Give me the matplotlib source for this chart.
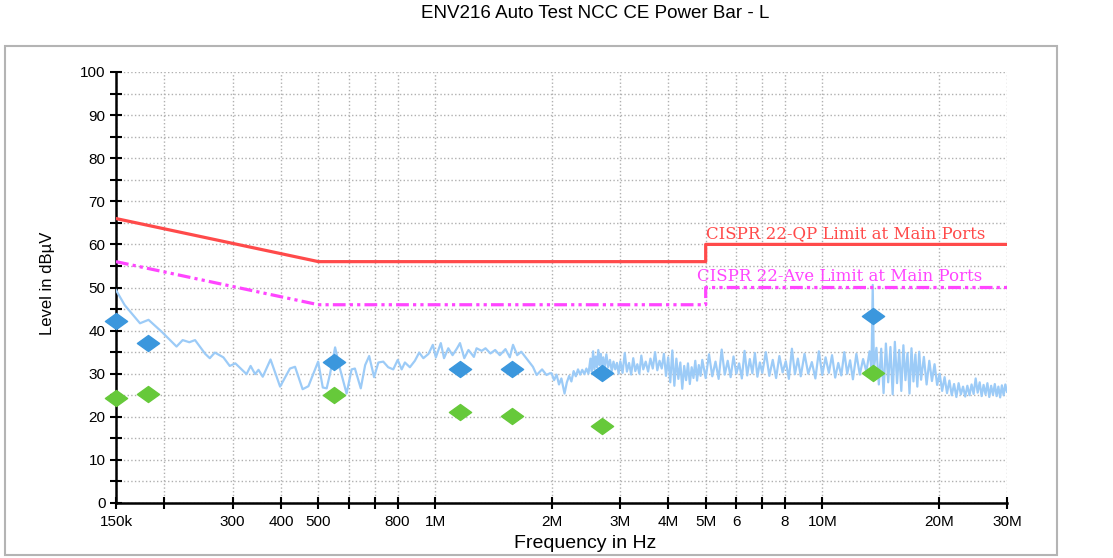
import matplotlib.pyplot as plt
from matplotlib.path import Path
from matplotlib.patches import Rectangle

# measured trace (peak detector scan), frequency in MHz, level in dBuV
trace_mhz = [
    0.150, 0.158, 0.173, 0.182, 0.197, 0.215, 0.223, 0.232, 0.240, 0.255,
    0.262, 0.270, 0.284, 0.295, 0.305, 0.326, 0.334, 0.343, 0.350, 0.359,
    0.376, 0.398, 0.422, 0.435, 0.455, 0.471, 0.499, 0.513, 0.525, 0.536,
    0.552, 0.568, 0.591, 0.609, 0.621, 0.643, 0.660, 0.676, 0.696, 0.714,
    0.735, 0.757, 0.780, 0.801, 0.820, 0.836, 0.861, 0.887, 0.910, 0.933,
    0.962, 0.987, 1.005, 1.035, 1.055, 1.082, 1.110, 1.140, 1.160, 1.190,
    1.220, 1.260, 1.280, 1.320, 1.350, 1.390, 1.430, 1.470, 1.520, 1.560,
    1.590, 1.630, 1.670, 1.720, 1.790, 1.830, 1.890, 1.940, 1.980,
    2.00, 2.03, 2.06, 2.09, 2.12, 2.16, 2.19, 2.22, 2.25, 2.28, 2.31, 2.34,
    2.37, 2.40, 2.43, 2.46, 2.49,
    2.52, 2.54, 2.56, 2.58, 2.60, 2.62, 2.64, 2.66, 2.68, 2.70, 2.72, 2.74,
    2.77, 2.80, 2.83, 2.86, 2.89, 2.92, 2.95,
    2.98, 3.01, 3.05, 3.09, 3.13, 3.17, 3.21, 3.25, 3.29, 3.33, 3.37, 3.41,
    3.45, 3.50, 3.55, 3.60, 3.65, 3.70, 3.75, 3.80, 3.85, 3.90, 3.95,
    4.00, 4.05, 4.10, 4.15, 4.20, 4.25, 4.30, 4.35, 4.40, 4.45, 4.50, 4.55,
    4.60, 4.65, 4.70, 4.75, 4.80, 4.85,
    4.9, 5.0, 5.1, 5.2, 5.3, 5.4, 5.5, 5.6, 5.7, 5.8, 5.9, 6.0, 6.1, 6.2,
    6.3, 6.4, 6.5, 6.6, 6.7, 6.8, 6.9, 7.0, 7.15, 7.3, 7.45, 7.6, 7.75, 7.9,
    8.05, 8.2, 8.35, 8.5, 8.65, 8.8, 9.0, 9.2, 9.4, 9.6, 9.8, 10.0, 10.2,
    10.4, 10.6, 10.8, 11.0, 11.2, 11.4, 11.6, 11.8, 12.0, 12.25, 12.5, 12.75,
    13.0, 13.25, 13.4, 13.5, 13.6, 13.8,
    14.0, 14.2, 14.4, 14.6, 14.8, 15.0, 15.2, 15.4, 15.6, 15.8, 16.0, 16.2,
    16.4, 16.6, 16.8, 17.0, 17.2, 17.4, 17.6, 17.8, 18.0, 18.3, 18.6, 18.9,
    19.2, 19.5, 19.8,
    20.1, 20.4, 20.7, 21.0, 21.3, 21.6, 21.9, 22.2, 22.5, 22.8, 23.1, 23.4,
    23.7, 24.0, 24.3, 24.6, 24.9, 25.2, 25.5, 25.8, 26.1, 26.4, 26.7, 27.0,
    27.3, 27.6, 27.9, 28.2, 28.5, 28.8, 29.1, 29.4, 29.7, 30.0,
]
trace_db = [
    49.4, 45.9, 41.7, 42.5, 39.7, 36.3, 37.8, 37.3, 37.8, 34.6,
    33.6, 34.9, 33.8, 31.8, 32.4, 29.9, 31.8, 29.9, 30.9, 29.3,
    33.3, 27.0, 31.2, 31.6, 26.4, 27.1, 32.8, 26.8, 26.6, 30.1,
    36.1, 31.2, 25.4, 31.0, 31.2, 26.6, 32.0, 34.1, 29.2, 32.6,
    32.8, 31.5, 31.0, 33.2, 31.0, 32.6, 31.5, 33.0, 34.9, 33.6,
    34.6, 36.7, 33.8, 37.1, 33.6, 35.9, 34.3, 35.9, 37.1, 33.6,
    35.5, 33.9, 35.9, 35.3, 35.9, 34.7, 35.5, 34.3, 35.7, 33.8,
    36.7, 34.3, 35.1, 33.6, 31.6, 29.7, 31.0, 29.7, 30.1,
    30.1, 28.5, 29.8, 27.5, 28.9, 25.4, 28.0, 29.5, 28.2, 30.6, 29.4, 31.0,
    29.8, 30.9, 29.9, 31.2, 30.0,
    33.5, 30.5, 35.2, 31.0, 34.0, 31.5, 35.5, 32.0, 34.6, 31.2, 33.8, 30.8,
    34.5, 31.5, 33.2, 30.6, 32.8, 31.0, 32.5,
    30.0, 32.9, 30.2, 34.8, 30.5, 32.5, 29.8, 33.6, 30.6, 32.2, 30.0, 34.2,
    31.0, 32.8, 30.5, 33.5, 31.2, 35.0, 30.8, 33.0, 31.2, 34.6, 29.5,
    33.8, 28.0, 35.4, 27.2, 33.5, 28.8, 32.6, 26.5, 31.8, 28.5, 32.4, 27.6,
    31.5, 29.0, 33.0, 28.4, 32.0, 29.5,
    33.2, 29.0, 34.5, 29.4, 32.8, 28.8, 35.6, 29.8, 33.0, 29.2, 34.0, 30.0,
    32.4, 28.9, 35.3, 29.6, 33.4, 30.1, 34.8, 29.3, 32.6, 30.2, 35.0, 29.5,
    33.2, 29.0, 34.1, 30.3, 32.9, 28.8, 35.8, 29.9, 33.5, 29.4, 34.6, 30.0,
    32.7, 28.9, 35.2, 29.7, 33.8, 30.2, 34.3, 29.1, 32.5, 29.6, 35.0, 30.0,
    33.1, 28.7, 34.6, 29.8, 33.4, 30.5, 35.2, 31.0, 50.6, 31.2, 36.0,
    27.5, 35.8, 25.5, 37.0, 28.0, 36.2, 25.2, 37.4, 27.8, 35.5, 26.0, 36.6,
    28.5, 34.8, 25.4, 35.9, 28.2, 34.5, 27.0, 35.1, 28.6, 33.9, 27.5, 33.0,
    28.3, 32.2, 27.4,
    30.0, 26.0, 29.2, 25.5, 28.4, 25.0, 27.6, 24.6, 27.8, 25.2, 27.0, 24.7,
    27.2, 25.0, 27.5, 25.3, 28.9, 25.6, 28.0, 24.8, 27.4, 25.2, 27.8, 24.6,
    27.2, 25.1, 27.6, 24.8, 27.0, 24.5, 27.3, 25.0, 27.5, 25.8,
]

# final measurements
peak_mhz = [0.150, 0.181, 0.549, 1.16, 1.58, 2.70, 13.5]
qp_db = [42.3, 37.1, 32.8, 31.0, 31.0, 30.1, 43.4]
av_db = [24.3, 25.3, 25.1, 21.0, 20.3, 17.9, 30.1]

# CISPR 22 class B mains limits
lim_mhz = [0.15, 0.5, 5.0, 5.0, 30.0]
lim_qp = [66, 56, 56, 60, 60]
lim_av = [56, 46, 46, 50, 50]

tick_hz = [150e3, 200e3, 300e3, 400e3, 500e3, 600e3, 700e3, 800e3, 1e6,
           2e6, 3e6, 4e6, 5e6, 6e6, 7e6, 8e6, 10e6, 20e6, 30e6]
tick_lbl = ['150k', '', '300', '400', '500', '', '', '800', '1M',
            '2M', '3M', '4M', '5M', '6', '', '8', '10M', '20M', '30M']

plt.rcParams['font.family'] = ['Liberation Sans', 'DejaVu Sans']

fig = plt.figure(figsize=(11.13, 5.58), dpi=100)
fig.patches.append(Rectangle((5 / 1113, 3 / 558), 1052 / 1113, 509 / 558,
                             transform=fig.transFigure, fill=False,
                             edgecolor='#b4b4b4', linewidth=1.5))
ax = fig.add_axes([116 / 1113, 1 - 503 / 558, 891 / 1113, 431 / 558])

hz = lambda seq: [v * 1e6 for v in seq]

ax.plot(hz(trace_mhz), trace_db, color='#9ccbf7', linewidth=1.6, zorder=3)
ax.plot(hz(lim_mhz), lim_qp, color='#ff4a4a', linewidth=2.3, zorder=4)
ax.plot(hz(lim_mhz), lim_av, color='#ff45ff', linewidth=2.3, zorder=4,
        dashes=(4, 1.3, 1, 1.3, 1, 1.3))

diamond = Path([(-1, 0), (0, 0.72), (1, 0), (0, -0.72), (-1, 0)],
               [Path.MOVETO, Path.LINETO, Path.LINETO, Path.LINETO, Path.CLOSEPOLY])
ax.plot(hz(peak_mhz), qp_db, linestyle='none', marker=diamond, markersize=16,
        color='#3b97dd', zorder=5, clip_on=False)
ax.plot(hz(peak_mhz), av_db, linestyle='none', marker=diamond, markersize=16,
        color='#66c93a', zorder=5, clip_on=False)

ax.text(5e6, 60.6, 'CISPR 22-QP Limit at Main Ports', color='#ff4a4a',
        family='DejaVu Serif', fontsize=12, va='bottom', ha='left',
        clip_on=False)
ax.text(4.75e6, 50.6, 'CISPR 22-Ave Limit at Main Ports', color='#ff45ff',
        family='DejaVu Serif', fontsize=12, va='bottom', ha='left',
        clip_on=False)

ax.set_xscale('log')
ax.set_xlim(150e3, 30e6)
ax.set_ylim(0, 100)
ax.set_xticks(tick_hz)
ax.set_xticklabels(tick_lbl)
ax.xaxis.set_minor_locator(plt.NullLocator())
ax.set_yticks(range(0, 101, 10))
ax.set_yticks(range(5, 100, 10), minor=True)

ax.tick_params(axis='both', which='both', direction='inout', length=9,
               width=1.5, labelsize=11, colors='black')
ax.tick_params(axis='x', pad=4)
ax.tick_params(axis='y', pad=3)
ax.grid(True, which='both', linestyle=':', color='#b0b0b0', linewidth=1)
ax.set_axisbelow(True)

for side in ['top', 'right']:
    ax.spines[side].set_visible(False)
for side in ['left', 'bottom']:
    ax.spines[side].set_linewidth(1.8)

ax.set_xlabel('Frequency in Hz', fontsize=14)
ax.xaxis.set_label_coords(0.527, -0.075)
ax.set_ylabel('Level in dBµV', fontsize=12)
ax.yaxis.set_label_coords(-0.068, 0.51)
fig.text(0.535, 0.975, 'ENV216 Auto Test NCC CE Power Bar - L', fontsize=13.5,
         ha='center', va='center')

fig.savefig('out.png', dpi=100)
